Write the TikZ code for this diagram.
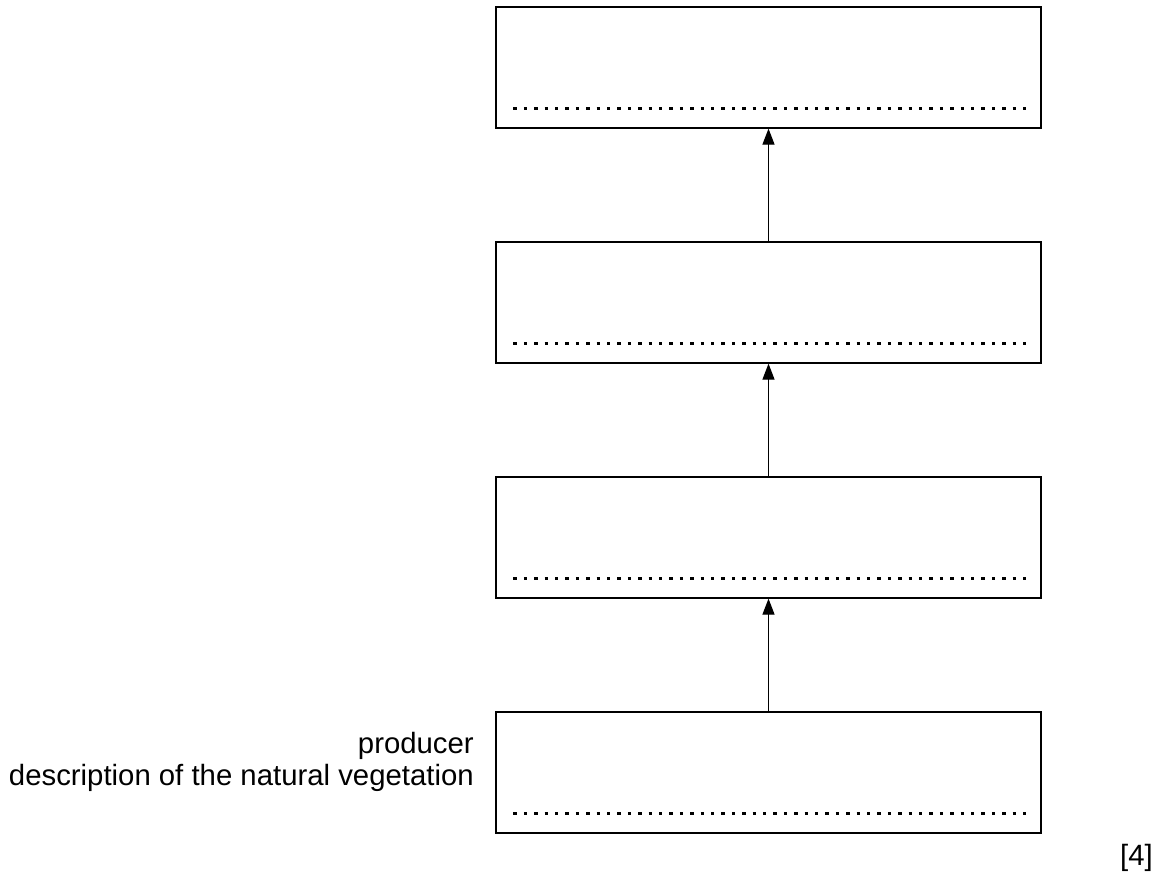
\documentclass[tikz,border=0pt]{standalone}
\usepackage{fontspec}
\setmainfont{Liberation Sans}
\usetikzlibrary{arrows.meta}
\begin{document}
\begin{tikzpicture}[x=0.75pt,y=-0.75pt]
    \tikzset{
        level/.style={draw, line width=0.9pt, minimum width=408.75pt, minimum height=90.75pt, inner sep=0pt},
        answer/.style={line width=2.5pt, dash pattern=on 2.5pt off 5.3pt},
        feeds/.style={line width=0.9pt, -{Triangle[width=9pt,length=12pt]}},
        label/.style={anchor=east, font=\fontsize{22}{26}\selectfont, inner sep=0pt}
    }
    \useasboundingbox (0,0) rectangle (1163,876);

    \node[level] (top) at (768.5,67.5) {};
    \node[level] (third) at (768.5,302.5) {};
    \node[level] (second) at (768.5,537.5) {};
    \node[level] (producer) at (768.5,772.5) {};

    \foreach \b in {top,third,second,producer}
        \draw[answer] ([xshift=13.5pt,yshift=15pt]\b.south west) -- ([xshift=-10.5pt,yshift=15pt]\b.south east);

    \draw[feeds] (producer.north) -- (second.south);
    \draw[feeds] (second.north) -- (third.south);
    \draw[feeds] (third.north) -- (top.south);

    \node[label] (prodlabel) at (474,746) {producer};
    \node[label] (desclabel) at (474,778) {description of the natural vegetation};
    \node[label] (marks) at (1153,858) {[4]};
\end{tikzpicture}
\end{document}
